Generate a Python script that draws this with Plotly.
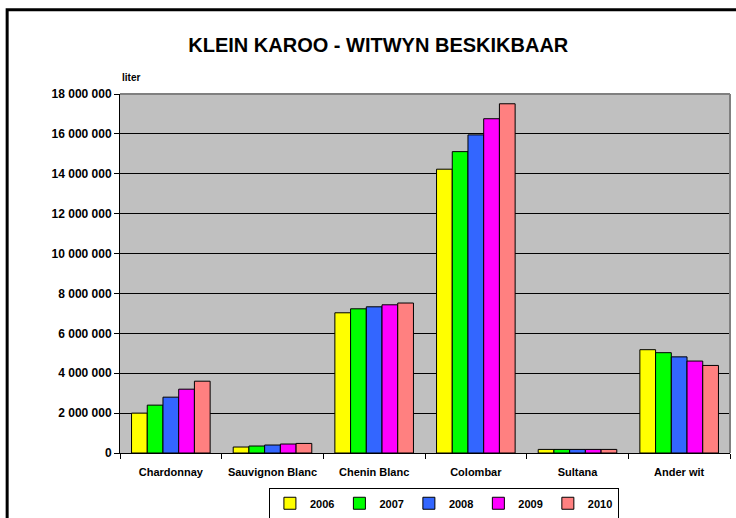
import plotly.graph_objects as go

categories = ["Chardonnay", "Sauvignon Blanc", "Chenin Blanc", "Colombar", "Sultana", "Ander wit"]
years = ["2006", "2007", "2008", "2009", "2010"]
v2006 = [2000000, 300000, 7030000, 14230000, 180000, 5180000]
v2007 = [2400000, 350000, 7230000, 15110000, 180000, 5030000]
v2008 = [2800000, 400000, 7330000, 15950000, 180000, 4820000]
v2009 = [3200000, 450000, 7430000, 16760000, 180000, 4610000]
v2010 = [3600000, 480000, 7520000, 17510000, 180000, 4390000]
series = [v2006, v2007, v2008, v2009, v2010]
colors = ["#FFFF00", "#00FF00", "#3366FF", "#FF00FF", "#FF8080"]

FONT = "Arial, Liberation Sans, sans-serif"

fig = go.Figure()
for name, vals, c in zip(years, series, colors):
    fig.add_trace(go.Bar(
        x=categories, y=vals, name=name,
        marker=dict(color=c, line=dict(color="black", width=1)),
    ))

fig.update_layout(
    width=736, height=518,
    margin=dict(l=120, r=6, t=94, b=65, autoexpand=False),
    paper_bgcolor="white",
    plot_bgcolor="#C0C0C0",
    barmode="group",
    bargap=0.227,
    bargroupgap=0,
    separators=". ",
    font=dict(family=FONT, size=11, color="black"),
    title=dict(
        text="<b>KLEIN KAROO - WITWYN BESKIKBAAR</b>",
        x=0.514, xref="container", xanchor="center",
        y=1 - 45 / 518, yref="container", yanchor="middle",
        font=dict(family=FONT, size=20, color="black"),
    ),
    showlegend=True,
    legend=dict(
        orientation="h",
        x=0.531, xanchor="center",
        y=-0.14, yanchor="middle",
        bordercolor="black", borderwidth=1,
        bgcolor="white",
        font=dict(family=FONT, size=11, color="black", weight="bold"),
        itemwidth=30,
        traceorder="normal",
    ),
    xaxis=dict(
        showline=True, linecolor="black", linewidth=1,
        ticks="outside", tickson="boundaries", ticklen=5, tickcolor="black",
        tickfont=dict(family=FONT, size=11, color="black", weight="bold"),
        tickangle=0, ticklabelstandoff=9,
        showgrid=False,
    ),
    yaxis=dict(
        range=[0, 18000000], dtick=2000000, tickformat=",d",
        showline=True, linecolor="black", linewidth=1,
        ticks="outside", ticklen=5, tickcolor="black",
        tickfont=dict(family=FONT, size=12, color="black", weight="bold"),
        showgrid=True, gridcolor="black", gridwidth=1,
        zeroline=False,
    ),
    shapes=[
        dict(type="line", xref="paper", yref="paper", x0=0, x1=1, y0=1, y1=1,
             line=dict(color="#808080", width=2)),
        dict(type="line", xref="paper", yref="paper", x0=1, x1=1, y0=0, y1=1,
             line=dict(color="#808080", width=2)),
        dict(type="rect", xref="paper", yref="paper",
             x0=-0.185, x1=1.1, y0=-0.3, y1=1.235,
             line=dict(color="black", width=3), layer="below"),
    ],
    annotations=[
        dict(text="<b>liter</b>", xref="paper", yref="paper",
             x=0, y=1.045, xanchor="left", yanchor="middle", showarrow=False,
             font=dict(family=FONT, size=10, color="black")),
    ],
)

fig.write_html("out.html", config={"displayModeBar": False},
               post_script="document.body.style.margin='0';")
